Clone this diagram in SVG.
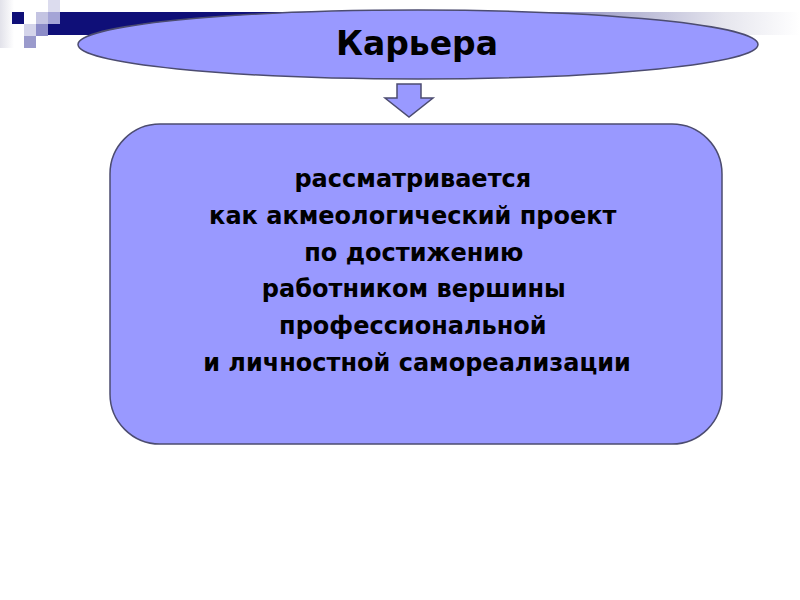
<svg xmlns="http://www.w3.org/2000/svg" width="800" height="600" viewBox="0 0 800 600">
<defs>
<linearGradient id="band" x1="48" y1="0" x2="800" y2="0" gradientUnits="userSpaceOnUse">
<stop offset="0" stop-color="#0f0f78"/>
<stop offset="0.35" stop-color="#0f0f78"/>
<stop offset="0.9" stop-color="#e6e6ee"/>
<stop offset="1" stop-color="#ffffff"/>
</linearGradient>
<linearGradient id="leftfade" x1="0" y1="0" x2="14" y2="0" gradientUnits="userSpaceOnUse">
<stop offset="0" stop-color="#e2e2ea"/>
<stop offset="1" stop-color="#ffffff"/>
</linearGradient>
<style>
.shape{fill:#9999ff;stroke:#4c4c70;stroke-width:1.5}
.title{font-family:"DejaVu Sans","Liberation Sans",sans-serif;font-weight:bold;font-size:33px;fill:#000;text-anchor:middle}
.body{font-family:"DejaVu Sans","Liberation Sans",sans-serif;font-weight:bold;font-size:24px;fill:#000;text-anchor:middle}
</style>
</defs>
<rect width="800" height="600" fill="#ffffff"/>
<g id="decor">
<rect x="0" y="0" width="14" height="48" fill="url(#leftfade)"/>
<rect x="48" y="12" width="752" height="23" fill="url(#band)"/>
<rect x="12" y="12" width="12" height="12" fill="#0f0f78"/>
<rect x="36" y="12" width="12" height="12" fill="#c4c4e2"/>
<rect x="48" y="0" width="12" height="12" fill="#dcdcee"/>
<rect x="48" y="12" width="12" height="12" fill="#a4a4d6"/>
<rect x="24" y="24" width="12" height="12" fill="#d4d4ea"/>
<rect x="36" y="24" width="12" height="12" fill="#8c8cc8"/>
<rect x="24" y="36" width="12" height="12" fill="#9a9acc"/>
</g>
<g id="title-node">
<ellipse class="shape" cx="418" cy="44.5" rx="340" ry="34.5"/>
<text class="title" x="417" y="55">Карьера</text>
</g>
<g id="connectors">
<path class="shape" d="M397,84 H421 V98 H433 L409,117 L385,98 H397 Z"/>
</g>
<g id="body-node">
<rect class="shape" x="110" y="124" width="612" height="320" rx="50" ry="50"/>
<text class="body">
<tspan x="417" y="187">рассматривается</tspan>
<tspan x="417" y="224">как акмеологический проект</tspan>
<tspan x="418" y="261">по достижению</tspan>
<tspan x="418" y="297">работником вершины</tspan>
<tspan x="417" y="334">профессиональной</tspan>
<tspan x="417" y="371">и личностной самореализации</tspan>
</text>
</g>
</svg>
